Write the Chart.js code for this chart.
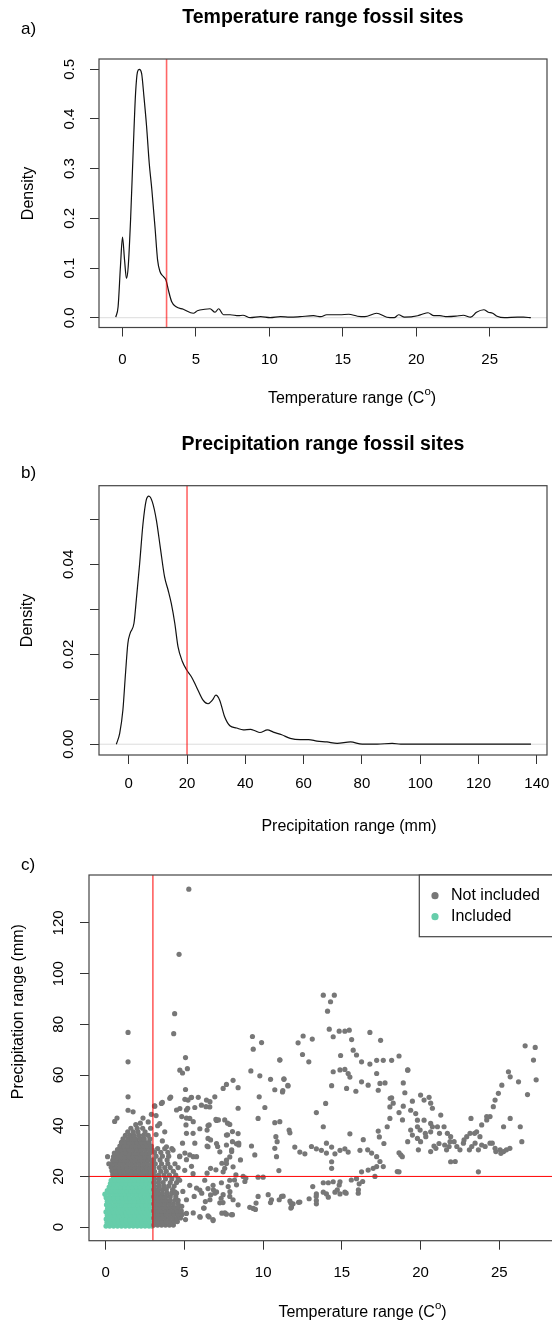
<!DOCTYPE html>
<html>
<head>
<meta charset="utf-8">
<script src="https://cdn.jsdelivr.net/npm/chart.js@4.4.1/dist/chart.umd.min.js"></script>
<style>
  html, body { margin: 0; padding: 0; background: #fff; overflow: hidden; }
  body { width: 552px; height: 1325px; position: relative; }
  canvas { position: absolute; left: 0; }
</style>
</head>
<body>
<canvas id="tempChart" width="552" height="420" style="top:0"></canvas>
<canvas id="precChart" width="552" height="420" style="top:420px"></canvas>
<canvas id="scatterChart" width="570" height="485" style="top:840px"></canvas>
<script>
// ---- data ----
const tempThreshold = 3;
const precThreshold = 20;

// a) density of temperature range
const tempDensityX = [-0.46,-0.30,-0.14,0.0,0.14,0.27,0.39,0.55,0.73,0.89,1.02,1.14,1.30,1.46,1.64,1.82,2.0,2.21,2.39,2.55,2.78,2.96,3.12,3.35,3.65,4.14,4.82,5.1,5.6,5.96,6.3,6.55,6.87,7.33,7.9,8.2,8.7,9.4,10.05,10.75,11.4,12.09,13.0,13.5,13.9,14.8,15.4,16.0,16.5,17.3,18.0,18.5,18.8,19.2,20.1,20.4,20.8,21.2,21.6,22.1,22.7,23.2,23.7,24.1,24.6,24.9,25.2,25.5,26.0,26.9,27.3,27.8];
const tempDensityY = [0.001,0.022,0.103,0.162,0.116,0.079,0.103,0.197,0.338,0.452,0.495,0.500,0.492,0.445,0.385,0.311,0.257,0.183,0.116,0.093,0.083,0.076,0.056,0.032,0.022,0.017,0.009,0.014,0.017,0.018,0.011,0.018,0.006,0.006,0.004,0.005,0.0,0.002,0.0,0.002,0.001,0.002,0.004,0.002,0.006,0.006,0.007,0.003,0.002,0.009,0.001,0.0,0.006,0.001,0.004,0.007,0.010,0.004,0.004,0.002,0.003,0.005,0.001,0.011,0.016,0.011,0.009,0.003,0.0,0.001,0.001,0.0];
const tempTicks = [0, 5, 10, 15, 20, 25];
const densityTicksA = [0, 0.1, 0.2, 0.3, 0.4, 0.5];

// b) density of precipitation range
const precDensityX = [-4.25,-3.1,-2.0,-1.1,-0.3,0.5,1.8,2.6,3.75,4.9,6.0,6.9,8.1,9.5,10.8,12.3,13.5,14.6,15.8,16.9,18.4,19.9,21.5,23.2,25.5,27.2,28.7,29.9,31.2,32.9,34.7,37.0,39.3,41.8,43.3,45.0,47.6,49.6,52.5,55.4,58.8,61.7,64.6,68.0,71.5,76.1,80.1,85.3,90.4,93.3,100,110,120,130,138];
const precDensityY = [0,0.0024,0.0076,0.0158,0.0224,0.0247,0.0269,0.0321,0.0402,0.0491,0.0543,0.0552,0.0539,0.0498,0.0439,0.0372,0.0343,0.0313,0.0269,0.0217,0.0184,0.0165,0.0150,0.0128,0.0098,0.0090,0.0098,0.0109,0.0098,0.0061,0.0041,0.0036,0.0032,0.0033,0.0030,0.0026,0.0032,0.0027,0.0021,0.0013,0.0010,0.0010,0.0007,0.0005,0.0002,0.0005,0,0,0.0002,0,0,0,0,0,0];
const precTicks = [0, 20, 40, 60, 80, 100, 120, 140];
const densityTicksB = [0, 0.01, 0.02, 0.03, 0.04, 0.05];
const densityLabelsB = ['0.00', '', '0.02', '', '0.04', ''];

// c) scatter of sites, dense parts as rows [precipitation, [temperatures]]
const includedRows = [
  [0.4,  [0.02,0.25,0.5,0.75,1.0,1.25,1.5,1.75,2.0,2.25,2.5,2.75,2.95]],
  [1.8,  [0.08,0.33,0.58,0.82,1.07,1.33,1.58,1.83,2.08,2.33,2.58,2.83]],
  [3.2,  [0.03,0.28,0.52,0.78,1.03,1.27,1.52,1.78,2.03,2.27,2.52,2.77,2.96]],
  [4.6,  [0.1,0.35,0.6,0.85,1.1,1.35,1.6,1.85,2.1,2.35,2.6,2.85]],
  [6.0,  [0.02,0.27,0.5,0.76,1.0,1.26,1.5,1.76,2.0,2.26,2.5,2.76,2.95]],
  [7.4,  [0.12,0.37,0.62,0.87,1.12,1.37,1.62,1.87,2.12,2.37,2.62,2.87]],
  [8.8,  [0.05,0.3,0.55,0.8,1.05,1.3,1.55,1.8,2.05,2.3,2.55,2.8,2.96]],
  [10.2, [0.1,0.35,0.6,0.85,1.1,1.35,1.6,1.85,2.1,2.35,2.6,2.85]],
  [11.6, [0.03,0.28,0.53,0.78,1.03,1.28,1.53,1.78,2.03,2.28,2.53,2.78,2.95]],
  [13.0, [-0.05,0.24,0.5,0.75,1.0,1.25,1.5,1.75,2.0,2.25,2.5,2.75,2.94]],
  [14.4, [0.1,0.35,0.6,0.85,1.1,1.35,1.6,1.85,2.1,2.35,2.6,2.85]],
  [15.8, [0.22,0.45,0.7,0.95,1.2,1.45,1.7,1.95,2.2,2.45,2.7,2.93]],
  [17.2, [0.3,0.55,0.8,1.05,1.3,1.55,1.8,2.05,2.3,2.55,2.8]],
  [18.5, [0.35,0.6,0.85,1.1,1.35,1.6,1.85,2.1,2.35,2.6,2.85]],
  [19.6, [0.5,0.75,1.0,1.25,1.5,1.75,2.0,2.25,2.5,2.75,2.96]]
];

const notIncludedRows = [
  [20.8, [0.45,0.7,0.95,1.2,1.45,1.7,1.95,2.2,2.45,2.7,2.95]],
  [22.2, [0.4,0.65,0.9,1.15,1.4,1.65,1.9,2.15,2.4,2.65,2.9]],
  [23.6, [0.35,0.6,0.85,1.1,1.35,1.6,1.85,2.1,2.35,2.6,2.85]],
  [25.0, [0.2,0.4,0.65,0.9,1.15,1.4,1.65,1.9,2.15,2.4,2.65,2.92]],
  [26.4, [0.45,0.7,0.95,1.2,1.45,1.7,1.95,2.2,2.45,2.7,2.95]],
  [27.8, [0.12,0.5,0.75,1.0,1.25,1.5,1.75,2.0,2.25,2.5,2.75]],
  [29.2, [0.55,0.8,1.05,1.3,1.55,1.8,2.05,2.3,2.55,2.8]],
  [30.6, [0.75,1.0,1.25,1.5,1.75,2.0,2.25,2.5,2.75,2.95]],
  [32.0, [0.9,1.15,1.4,1.65,1.9,2.15,2.4,2.65,2.9]],
  [33.4, [1.0,1.25,1.5,1.75,2.0,2.25,2.5,2.75]],
  [34.8, [1.1,1.4,1.65,1.9,2.2,2.45,2.8]],
  [36.2, [1.25,1.55,1.8,2.1,2.4,2.7]],
  [37.6, [1.4,1.75,2.05,2.5]],
  [39.0, [1.6,2.0,2.35,2.85]],
  [0.8,  [3.05,3.3,3.55,3.8,4.05,4.3]],
  [2.2,  [3.1,3.35,3.6,3.85,4.1,4.35,4.55]],
  [3.6,  [3.05,3.3,3.55,3.8,4.05,4.3,4.55,4.75]],
  [5.0,  [3.1,3.35,3.6,3.85,4.1,4.35,4.6,4.85]],
  [6.4,  [3.05,3.3,3.55,3.8,4.05,4.3,4.55,4.8]],
  [7.8,  [3.1,3.35,3.6,3.85,4.1,4.35,4.6]],
  [9.2,  [3.05,3.3,3.55,3.8,4.05,4.3,4.6]],
  [10.6, [3.1,3.35,3.6,3.85,4.1,4.4]],
  [12.0, [3.05,3.3,3.55,3.8,4.1,4.45]],
  [13.4, [3.1,3.35,3.6,3.9,4.2,4.5]],
  [14.8, [3.05,3.3,3.6,3.85,4.25]],
  [16.2, [3.1,3.4,3.7,4.0,4.35]],
  [17.6, [3.05,3.35,3.65,4.1,4.5]],
  [19.0, [3.1,3.4,3.8,4.2,4.6]],
  [20.5, [3.05,3.35,3.7,4.05,4.45]],
  [22.0, [3.1,3.5,3.85,4.3]],
  [23.5, [3.05,3.4,3.75,4.1,4.6]],
  [25.0, [3.15,3.55,3.95,4.4]],
  [26.5, [3.05,3.45,3.9]],
  [28.0, [3.2,3.6,4.0,4.7]],
  [29.5, [3.1,3.5,3.95]],
  [31.0, [3.3,3.75,4.2]]
];

// sparse sites as [temperature range, precipitation range]
const notIncludedPts = [
  [0.57,41.7],[0.72,43.0],[1.42,46.1],[1.74,45.5],[2.37,43.0],[1.91,40.4],[1.42,51.4],[1.42,65.2],[1.42,76.8],[2.2,41.0],[2.7,41.5],[2.9,44.5],
  [5.28,133.3],[4.66,107.6],[4.38,84.2],[4.32,76.3],[5.07,66.9],[4.71,61.9],[4.88,60.8],[5.19,62.5],[5.07,54.3],
  [3.1,47.8],[3.6,49.2],[4.13,51.3],[3.2,44.0],[3.43,40.8],[3.75,37.6],[3.3,40.0],[3.2,36.5],[3.6,34.0],[4.71,46.8],[5.03,50.4],[5.45,51.2],[4.83,43.6],[5.13,43.0],[5.56,41.6],[5.13,37.0],[5.66,33.1],[5.56,27.8],[4.88,33.1],[5.03,29.2],[5.13,26.6],[5.45,24.0],[4.9,14.1],[5.13,10.8],[4.83,8.2],[5.56,5.6],[5.07,3.0],
  [7.67,56.3],[8.09,57.9],[8.41,55.0],[7.46,54.7],[9.32,75.2],[9.37,70.2],[9.9,72.8],[9.22,61.6],[9.79,59.7],[11.06,65.9],[10.47,58.3],[11.32,58.3],[10.74,54.2],[11.23,53.3],[9.75,51.4],[10.11,47.2],[9.68,42.9],[9.26,32.0],[9.47,28.5],[10.74,41.2],[10.81,35.7],[10.89,33.7],[10.74,31.1],[10.85,27.8],[11.0,22.3],[11.65,38.3],[9.68,19.7],[10.0,19.7],[10.32,12.8],[10.53,10.8],[11.17,12.1],[11.02,10.8],[9.37,7.4],[9.51,7.0],[9.15,7.8],[11.7,10.3],
  [8.31,16.7],[8.73,20.0],[8.84,18.0],[7.88,12.1],[8.09,10.8],[8.41,8.8],[7.57,5.6],[7.99,4.9],[7.25,9.6],[7.46,12.8],[6.82,3.0],[6.57,4.0],[6.25,7.5],[5.98,4.2],[5.62,12.1],[5.13,5.4],
  [6.29,18.5],[6.82,16.5],[7.04,13.9],[7.35,17.5],[6.5,15.2],[5.98,14.6],[5.34,16.5],[5.55,21.1],[5.02,22.4],[4.7,18.5],[4.39,13.9],[4.6,10.6],
  [7.88,18.5],[8.09,23.8],[7.67,25.1],[7.46,21.8],[7.88,27.7],[8.31,32.9],[8.41,36.9],[7.88,40.5],[7.67,36.3],[7.04,42.1],[6.5,40.1],[5.98,38.8],[5.34,42.9],[5.13,46.2],[4.5,46.2],[4.07,50.8],[3.54,48.8],[3.12,47.7],
  [5.23,50.1],[5.66,47.2],[6.08,48.1],[6.4,50.1],[6.61,47.4],[6.93,51.4],
  [3.86,31.7],[4.28,30.4],[4.7,27.8],[5.34,28.5],[5.77,27.8],[6.5,31.7],[6.5,35.0],[7.04,33.0],[7.25,29.7],[7.67,26.4],
  [11.58,55.7],[9.68,12.1],[9.55,9.5],[10.47,9.7],[11.76,9.5],[11.76,7.5],[12.25,9.8],
  [8.41,46.9],[6.62,49.5],[6.37,47.5],[5.43,51.1],[5.88,51.2],[5.21,46.9],
  [7.0,42.5],[7.16,42.3],[7.56,42.3],[7.74,41.0],[6.57,40.3],[6.44,38.3],[5.55,37.0],[5.1,40.3],
  [7.74,36.4],[7.67,32.4],[8.05,37.7],[8.05,33.7],[8.45,33.1],[8.45,32.4],[8.0,29.8],[8.0,30.5],[8.56,26.5],[7.11,31.8],[6.66,34.4],[6.44,32.0],[7.38,25.2],[7.0,22.6],[7.56,23.2],[8.27,20.6],[8.18,18.6],[7.78,16.0],[7.89,14.0],[7.33,11.4],[7.45,9.7],[6.84,14.7],[6.93,13.4],[6.66,12.7],[6.62,10.8],[7.38,5.5],[7.67,5.1],[8.05,4.9],[6.22,7.5],[6.0,3.9],[6.5,4.5],[6.82,2.6],[6.44,21.3],[6.66,23.2],[5.77,15.4],[6.1,13.4],[6.33,10.1],[8.9,19.3],
  [13.82,91.5],[14.52,91.5],[14.28,88.9],[14.09,85.2],[14.2,78.1],[14.45,75.1],[14.83,77.3],[15.19,77.3],[15.47,77.7],[15.62,74.0],[16.78,76.8],[17.46,73.7],[12.22,72.7],[12.54,75.4],[13.12,74.2],[12.5,68.1],[12.9,65.2],
  [15.72,69.8],[15.93,67.9],[16.25,65.2],[16.78,64.3],[17.21,65.8],[17.63,65.8],[18.16,65.8],[18.63,67.5],[14.92,67.7],
  [14.45,61.3],[14.88,62.0],[15.19,62.2],[15.4,60.6],[15.51,59.2],[16.25,57.3],[16.67,56.0],[17.21,60.6],[17.42,56.7],[17.74,56.9],[14.35,55.8],[15.3,54.7],[15.89,53.6],[17.31,54.0],[19.18,61.9],[18.9,56.9],[19.0,53.0],
  [18.16,51.0],[18.26,48.9],[18.05,47.4],[18.9,47.7],[18.63,45.2],[18.07,50.8],[19.19,62.0],[18.85,42.3],
  [19.48,49.7],[20.0,52.1],[20.22,50.1],[20.54,51.2],[20.64,48.9],[20.75,46.9],[19.37,46.1],[19.69,44.8],[19.8,42.2],[20.22,42.2],[20.64,40.9],[21.07,39.6],[21.28,44.2],[19.8,39.6],
  [19.37,38.3],[19.48,36.3],[19.8,35.0],[20.0,33.7],[20.33,35.7],[20.64,37.6],[19.97,38.3],[20.3,37.0],[20.75,39.6],[21.2,37.0],
  [20.85,32.0],[21.17,33.0],[21.49,39.6],[21.7,37.0],[21.91,35.7],[21.81,31.8],[22.13,33.7],[21.53,32.4],[21.87,33.7],[22.3,31.8],[22.76,34.4],[23.1,30.5],[23.43,37.0],
  [22.5,30.5],[22.72,33.1],[22.93,35.7],[23.14,37.0],[23.25,31.8],[23.46,33.1],[23.67,30.5],[23.88,32.4],[24.1,31.8],[24.41,33.1],[24.73,31.1],[25.05,30.5],[25.27,29.8],[24.55,33.1],[24.78,29.8],[25.1,29.1],[25.45,30.5],[25.67,31.1],
  [21.91,25.8],[23.67,21.8],[23.2,42.9],[22.2,25.9],[21.65,30.5],[20.97,31.1],[20.64,29.8],[19.86,30.5],[19.18,33.7],[18.74,28.5],[18.52,21.9],
  [23.88,40.3],[24.2,42.3],[24.41,43.6],[24.62,47.5],[24.73,50.1],[24.94,52.8],[25.16,56.0],[25.58,61.3],[25.69,59.3],[26.22,57.3],[24.2,43.6],
  [25.27,39.6],[25.69,42.9],[26.33,39.6],[26.43,33.7],
  [26.64,71.5],[27.28,70.9],[27.17,65.9],[27.34,58.1],[26.79,52.3],
  [23.56,37.6],[23.77,35.7],
  [18.63,29.3],[18.63,21.8],[18.84,27.8],
  [15.51,36.8],[16.36,34.5],[16.64,30.5],[16.89,29.2],[17.21,27.8],[17.42,25.9],[17.63,23.9],[17.21,23.9],[17.1,20.0],
  [17.31,37.9],[17.38,35.6],[17.67,33.0],[17.88,39.6],[18.05,42.9],
  [12.01,31.6],[12.33,29.6],[12.65,28.9],[13.07,31.8],[13.38,30.9],[13.7,30.3],[14.02,29.2],[14.35,31.6],[14.56,28.9],[14.88,30.3],[15.19,30.9],[15.4,29.6],[16.15,30.3],
  [14.35,25.8],[14.35,23.2],[13.82,39.6],[14.02,33.1],[13.38,45.2],[13.97,48.8],
  [16.25,21.8],[16.67,22.5],[16.99,23.2],
  [13.82,17.5],[14.14,17.5],[14.45,17.9],[14.88,17.9],[14.83,16.6],[13.82,13.8],[14.02,13.1],[14.14,11.8],[14.56,13.8],[14.88,13.1],[15.19,13.8],[13.38,13.1],[13.38,10.5],[13.38,9.2],[12.92,11.2],[12.33,9.9],[11.9,9.2],[11.8,7.9],[15.93,19.1],[16.1,17.1],[16.04,13.4],[11.27,12.2],
  [13.15,16.0],[13.37,12.1],[14.71,14.7],[15.27,13.4],[15.6,18.6],[16.05,14.7],[16.32,18.0],
  [11.32,58.5],[11.57,55.9],[11.25,53.9],[11.06,66.0],[11.7,37.2],[11.06,41.6]
];
const scatterXTicks = [0, 5, 10, 15, 20, 25];
const scatterYTicks = [0, 20, 40, 60, 80, 100, 120];

// ---- drawing ----
const FONT = '"Liberation Sans", Arial, Helvetica, sans-serif';
Chart.defaults.font.family = FONT;
Chart.defaults.color = '#000';

const flatRows = rows => rows.flatMap(([y, xs]) => xs.map(x => ({ x, y })));
const toPts = (xs, ys) => xs.map((x, i) => ({ x, y: ys[i] }));

function drawText(ctx, t) {
  ctx.save();
  ctx.fillStyle = '#000';
  ctx.textBaseline = 'middle';
  ctx.textAlign = 'left';
  const parts = Array.isArray(t.text) ? t.text : [{ s: t.text }];
  const fontFor = p => `${t.bold ? 'bold ' : ''}${p.sup ? t.size * 0.72 : t.size}px ${FONT}`;
  let w = 0;
  const widths = parts.map(p => { ctx.font = fontFor(p); const pw = ctx.measureText(p.s).width; w += pw; return pw; });
  ctx.translate(t.x, t.y);
  if (t.rot) ctx.rotate(t.rot);
  let cx = t.align === 'left' ? 0 : -w / 2;
  parts.forEach((p, i) => {
    ctx.font = fontFor(p);
    ctx.fillText(p.s, cx, p.sup ? -t.size * 0.42 : 0);
    cx += widths[i];
  });
  ctx.restore();
}

function makeDecor(cfg) {
  return {
    id: 'decor',
    beforeDatasetsDraw(chart) {
      if (!cfg.zeroLine) return;
      const { ctx, chartArea: a, scales } = chart;
      const py = scales.y.getPixelForValue(0);
      ctx.save();
      ctx.strokeStyle = '#dcdcdc';
      ctx.lineWidth = 1;
      ctx.beginPath(); ctx.moveTo(a.left, py); ctx.lineTo(a.right, py); ctx.stroke();
      ctx.restore();
    },
    afterDatasetsDraw(chart) {
      const { ctx, chartArea: a, scales } = chart;
      ctx.save();
      ctx.beginPath(); ctx.rect(a.left, a.top, a.right - a.left, a.bottom - a.top); ctx.clip();
      ctx.strokeStyle = cfg.cutColor;
      ctx.lineWidth = cfg.cutWidth;
      (cfg.vLines || []).forEach(v => {
        const px = scales.x.getPixelForValue(v);
        ctx.beginPath(); ctx.moveTo(px, a.top); ctx.lineTo(px, a.bottom); ctx.stroke();
      });
      (cfg.hLines || []).forEach(v => {
        const py = scales.y.getPixelForValue(v);
        ctx.beginPath(); ctx.moveTo(a.left, py); ctx.lineTo(a.right, py); ctx.stroke();
      });
      ctx.restore();
      ctx.save();
      ctx.strokeStyle = '#444';
      ctx.lineWidth = 1.2;
      ctx.strokeRect(a.left, a.top, a.right - a.left, a.bottom - a.top);
      ctx.restore();
    },
    afterDraw(chart) {
      const ctx = chart.ctx;
      (cfg.texts || []).forEach(t => drawText(ctx, t));
      if (cfg.legend) {
        const L = cfg.legend, a = chart.chartArea;
        ctx.save();
        ctx.fillStyle = '#fff';
        ctx.fillRect(L.left, a.top, chart.width - L.left + 5, L.bottom - a.top);
        ctx.strokeStyle = '#444';
        ctx.lineWidth = 1.2;
        ctx.strokeRect(L.left, a.top, chart.width - L.left + 5, L.bottom - a.top);
        chart.data.datasets.forEach((ds, i) => {
          const cy = L.firstY + i * L.rowGap;
          ctx.fillStyle = ds.backgroundColor;
          ctx.beginPath(); ctx.arc(L.dotX, cy, 3.6, 0, Math.PI * 2); ctx.fill();
          drawText(ctx, { text: ds.label, x: L.textX, y: cy, size: 16, align: 'left' });
        });
        ctx.restore();
      }
    }
  };
}

function axes(o) {
  const tickGrid = { display: true, drawOnChartArea: false, drawTicks: true, tickLength: 9, color: '#333', tickColor: '#333', lineWidth: 1 };
  return {
    x: {
      type: 'linear', min: o.xMin, max: o.xMax,
      afterBuildTicks: s => { s.ticks = o.xTicks.map(v => ({ value: v })); },
      afterFit: s => { s.height = o.xH; s.paddingLeft = 0; s.paddingRight = 0; },
      grid: tickGrid, border: { display: false },
      ticks: { autoSkip: false, minRotation: 0, maxRotation: 0, padding: o.xPad, font: { size: 15 }, color: '#000',
        callback: v => String(v) }
    },
    y: {
      type: 'linear', min: o.yMin, max: o.yMax,
      afterBuildTicks: s => { s.ticks = o.yTicks.map(v => ({ value: v })); },
      afterFit: s => { s.width = o.yW; s.paddingTop = 0; s.paddingBottom = 0; },
      grid: tickGrid, border: { display: false },
      ticks: { autoSkip: false, minRotation: 90, maxRotation: 90, crossAlign: 'center', padding: o.yPad, font: { size: 15 }, color: '#000',
        callback: (v, i) => o.yLabels[i] }
    }
  };
}

const baseOpts = {
  responsive: false, animation: false, events: [],
  plugins: { legend: { display: false }, tooltip: { enabled: false }, title: { display: false } }
};

const tempLabel = [{ s: 'Temperature range (C' }, { s: 'o', sup: true }, { s: ')' }];

// a) temperature density
new Chart(document.getElementById('tempChart'), {
  type: 'line',
  data: { datasets: [{ data: toPts(tempDensityX, tempDensityY), borderColor: '#111', borderWidth: 1.2,
    pointRadius: 0, cubicInterpolationMode: 'monotone', fill: false }] },
  options: Object.assign({}, baseOpts, {
    layout: { padding: { top: 59, right: 5, bottom: 0, left: 0 } },
    scales: axes({ xMin: -1.6, xMax: 28.9, xTicks: tempTicks, xH: 92.5, xPad: 14,
      yMin: -0.0197, yMax: 0.5207, yTicks: densityTicksA, yLabels: densityTicksA.map(v => v.toFixed(1)), yW: 99, yPad: 10 })
  }),
  plugins: [makeDecor({
    zeroLine: true, vLines: [tempThreshold], cutColor: 'rgba(255,0,0,0.6)', cutWidth: 1.6,
    texts: [
      { text: 'Temperature range fossil sites', x: 323, y: 17.5, size: 19.5, bold: true },
      { text: 'a)', x: 21, y: 29, size: 17, align: 'left' },
      { text: 'Density', x: 28.5, y: 193.5, size: 16, rot: -Math.PI / 2 },
      { text: tempLabel, x: 352, y: 399, size: 16 }
    ]
  })]
});

// b) precipitation density
new Chart(document.getElementById('precChart'), {
  type: 'line',
  data: { datasets: [{ data: toPts(precDensityX, precDensityY), borderColor: '#111', borderWidth: 1.2,
    pointRadius: 0, cubicInterpolationMode: 'monotone', fill: false }] },
  options: Object.assign({}, baseOpts, {
    layout: { padding: { top: 65.7, right: 5, bottom: 0, left: 0 } },
    scales: axes({ xMin: -10.2, xMax: 143.5, xTicks: precTicks, xH: 85, xPad: 11,
      yMin: -0.0024, yMax: 0.0575, yTicks: densityTicksB, yLabels: densityLabelsB, yW: 99, yPad: 7 })
  }),
  plugins: [makeDecor({
    zeroLine: true, vLines: [precThreshold], cutColor: 'rgba(255,0,0,0.6)', cutWidth: 1.6,
    texts: [
      { text: 'Precipitation range fossil sites', x: 323, y: 25, size: 19.5, bold: true },
      { text: 'b)', x: 21, y: 53, size: 17, align: 'left' },
      { text: 'Density', x: 28, y: 200.5, size: 16, rot: -Math.PI / 2 },
      { text: 'Precipitation range (mm)', x: 349, y: 407, size: 16 }
    ]
  })]
});

// c) temperature vs precipitation range
new Chart(document.getElementById('scatterChart'), {
  type: 'scatter',
  data: { datasets: [
    { label: 'Not included', data: flatRows(notIncludedRows).concat(notIncludedPts.map(([x, y]) => ({ x, y }))),
      backgroundColor: '#777777', pointRadius: 2.6, pointBorderWidth: 0 },
    { label: 'Included', data: flatRows(includedRows),
      backgroundColor: '#66CDAA', pointRadius: 2.6, pointBorderWidth: 0 }
  ] },
  options: Object.assign({}, baseOpts, {
    layout: { padding: { top: 35, right: 14, bottom: 0, left: 0 } },
    scales: axes({ xMin: -1.06, xMax: 28.6, xTicks: scatterXTicks, xH: 84.3, xPad: 14,
      yMin: -5.35, yMax: 138.9, yTicks: scatterYTicks, yLabels: scatterYTicks.map(String), yW: 89, yPad: 9 })
  }),
  plugins: [makeDecor({
    vLines: [tempThreshold], hLines: [precThreshold], cutColor: '#ff0000', cutWidth: 1,
    legend: { left: 419.3, bottom: 96.7, dotX: 435, textX: 451, firstY: 55.7, rowGap: 21 },
    texts: [
      { text: 'c)', x: 21, y: 25, size: 17, align: 'left' },
      { text: 'Precipitation range (mm)', x: 18.3, y: 171.7, size: 16, rot: -Math.PI / 2 },
      { text: tempLabel, x: 362.5, y: 472.5, size: 16 }
    ]
  })]
});
</script>
</body>
</html>
